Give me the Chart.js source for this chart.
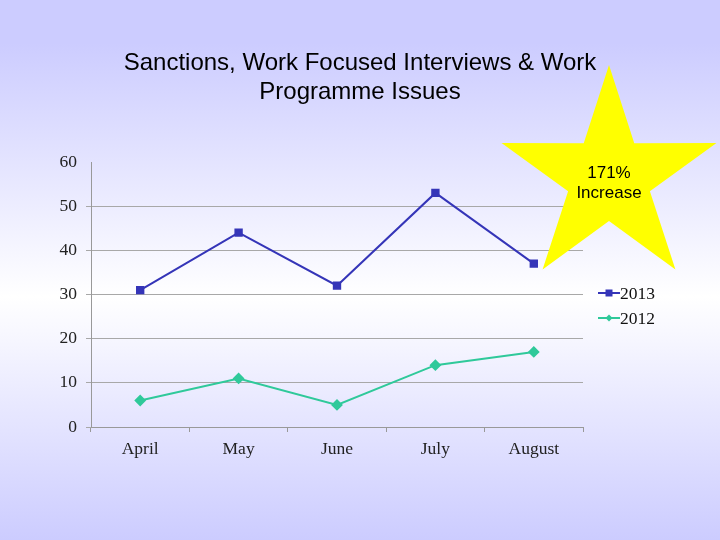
<!DOCTYPE html>
<html lang="en">
<head>
    <meta charset="UTF-8">
    <title>Sanctions Chart</title>
    <script src="https://cdn.jsdelivr.net/npm/chart.js"></script>
    <style>
        html, body { margin: 0; padding: 0; }
        body {
            width: 720px; height: 540px; overflow: hidden;
            background: linear-gradient(to bottom, #ccccff 0%, #ccccff 8%, #ffffff 55%, #ccccff 100%);
        }
        #wrap { width: 720px; height: 540px; }
    </style>
</head>
<body>
    <div id="wrap">
        <canvas id="issuesChart"></canvas>
    </div>
    <script>
    // chart data
    var months = ['April', 'May', 'June', 'July', 'August'];
    var seriesNames = ['2013', '2012'];
    var values2013 = [31, 44, 32, 53, 37];
    var values2012 = [6, 11, 5, 14, 17];
    var titleLines = ['Sanctions, Work Focused Interviews & Work', 'Programme Issues'];
    var starText = ['171%', 'Increase'];

    var serif = '"Liberation Serif", "Times New Roman", serif';
    var sans = '"Liberation Sans", Arial, sans-serif';

    // slide title, centred on the page rather than the plot
    var slideTitle = {
        id: 'slideTitle',
        afterDraw: function (chart) {
            var ctx = chart.ctx;
            ctx.save();
            ctx.fillStyle = '#000';
            ctx.font = '24px ' + sans;
            ctx.textAlign = 'center';
            ctx.textBaseline = 'middle';
            ctx.fillText(titleLines[0], 360, 63);
            ctx.fillText(titleLines[1], 360, 92);
            ctx.restore();
        }
    };

    // simple legend with a line sample and a marker in the middle
    var sideLegend = {
        id: 'sideLegend',
        afterDraw: function (chart) {
            var ctx = chart.ctx;
            ctx.save();
            chart.data.datasets.forEach(function (ds, i) {
                var y = 293 + i * 25;
                ctx.strokeStyle = ds.borderColor;
                ctx.lineWidth = 2;
                ctx.beginPath();
                ctx.moveTo(598, y);
                ctx.lineTo(620, y);
                ctx.stroke();
                ctx.fillStyle = ds.borderColor;
                ctx.beginPath();
                if (ds.pointStyle === 'rect') {
                    ctx.rect(605.5, y - 3.5, 7, 7);
                } else {
                    ctx.moveTo(609, y - 3.5);
                    ctx.lineTo(612.5, y);
                    ctx.lineTo(609, y + 3.5);
                    ctx.lineTo(605.5, y);
                    ctx.closePath();
                }
                ctx.fill();
                ctx.fillStyle = '#111';
                ctx.font = '17.5px ' + serif;
                ctx.textBaseline = 'middle';
                ctx.fillText(ds.label, 620, y + 1);
            });
            ctx.restore();
        }
    };

    // yellow star callout on top of everything
    var starCallout = {
        id: 'starCallout',
        afterDraw: function (chart) {
            var ctx = chart.ctx;
            var cx = 609, cy = 178, outer = 113, inner = 43;
            ctx.save();
            ctx.fillStyle = '#ffff00';
            ctx.beginPath();
            for (var k = 0; k < 10; k++) {
                var r = k % 2 === 0 ? outer : inner;
                var a = -Math.PI / 2 + k * Math.PI / 5;
                var px = cx + r * Math.cos(a), py = cy + r * Math.sin(a);
                if (k === 0) ctx.moveTo(px, py); else ctx.lineTo(px, py);
            }
            ctx.closePath();
            ctx.fill();
            ctx.fillStyle = '#000';
            ctx.font = '17px ' + sans;
            ctx.textAlign = 'center';
            ctx.textBaseline = 'middle';
            ctx.fillText(starText[0], cx, 173);
            ctx.fillText(starText[1], cx, 193);
            ctx.restore();
        }
    };

    var ctx = document.getElementById('issuesChart').getContext('2d');
    var issuesChart = new Chart(ctx, {
        type: 'line',
        data: {
            labels: months,
            datasets: [{
                label: seriesNames[0],
                data: values2013,
                borderColor: '#3535b8',
                backgroundColor: '#3535b8',
                borderWidth: 2,
                pointStyle: 'rect',
                pointRadius: 4.5,
                tension: 0
            }, {
                label: seriesNames[1],
                data: values2012,
                borderColor: '#2fc99a',
                backgroundColor: '#2fc99a',
                borderWidth: 2,
                pointStyle: 'rectRot',
                pointRadius: 4.5,
                tension: 0
            }]
        },
        options: {
            responsive: true,
            maintainAspectRatio: false,
            animation: false,
            layout: { padding: { left: 40, right: 137, top: 162, bottom: 70 } },
            plugins: {
                legend: { display: false },
                tooltip: { enabled: false },
                title: { display: false }
            },
            scales: {
                x: {
                    offset: true,
                    afterFit: function (scale) { scale.height = 43; },
                    grid: {
                        offset: true,
                        drawOnChartArea: false,
                        drawTicks: true,
                        tickLength: 5,
                        color: '#999'
                    },
                    border: { color: '#999' },
                    ticks: {
                        color: '#222',
                        padding: 7,
                        font: { family: serif, size: 17.5 }
                    }
                },
                y: {
                    min: 0,
                    max: 60,
                    afterFit: function (scale) { scale.width = 51; },
                    grid: {
                        color: function (c) { return c.tick && c.tick.value === 60 ? 'rgba(0,0,0,0)' : '#a8a8a8'; },
                        tickLength: 5
                    },
                    border: { color: '#999' },
                    ticks: {
                        stepSize: 10,
                        color: '#222',
                        padding: 9,
                        font: { family: serif, size: 17.5 }
                    }
                }
            }
        },
        plugins: [slideTitle, sideLegend, starCallout]
    });
    </script>
</body>
</html>
